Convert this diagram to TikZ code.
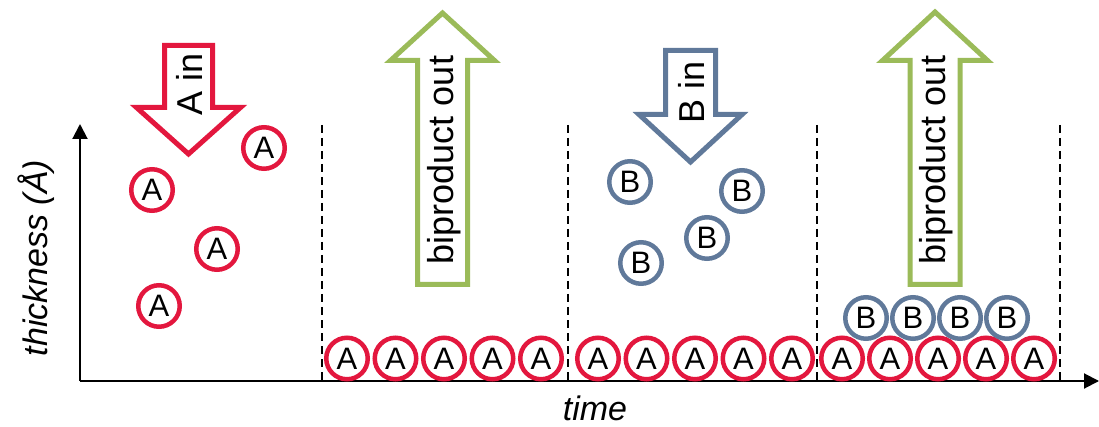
\documentclass[tikz,border=0pt]{standalone}
\usepackage{fontspec}
\setmainfont{Liberation Sans}
\usetikzlibrary{arrows.meta}
\definecolor{molA}{HTML}{E3173E}
\definecolor{molB}{HTML}{60799A}
\definecolor{purge}{HTML}{9BBB59}
\begin{document}
\begin{tikzpicture}[x=1pt,y=-1pt,
  mol/.style={circle, draw, line width=4.5pt, inner sep=0pt, minimum size=41.5pt,
    fill=white, font=\fontsize{31}{31}\selectfont},
  amol/.style={mol, draw=molA},
  bmol/.style={mol, draw=molB},
  flow/.style={line width=5pt, fill=white, miter limit=10},
  flowlabel/.style={rotate=90, inner sep=0pt, font=\fontsize{36}{36}\selectfont},
  axislabel/.style={inner sep=0pt, font=\fontsize{34}{34}\selectfont\itshape},
  stage/.style={line width=1.8pt, dash pattern=on 8pt off 5pt},
  axis/.style={line width=2pt, -{Triangle[length=15pt,width=15pt]}}
]
\useasboundingbox (0,0) rectangle (1099,427);

% axes
\coordinate (O) at (80,381);
\coordinate (ytop) at (80,124);
\coordinate (xend) at (1099,381);
\draw[axis] (O) -- (ytop);
\draw[axis] (O) -- (xend);
\node[axislabel, rotate=90] (ylab) at (36,258) {thickness (Å)};
\node[axislabel] (xlab) at (595,408) {time};

% stage boundaries
\foreach \x in {322,568,817,1060}
  \draw[stage] (\x,125) -- (\x,381);

% step 1: precursor A pulse
\draw[flow, draw=molA] (164.5,45.5) -- (212.5,45.5) -- (212.5,107.5) -- (240.5,107.5)
  -- (188.5,154) -- (136.5,107.5) -- (164.5,107.5) -- cycle;
\node[flowlabel] (ain) at (189,84) {A in};
\node[amol] (a1) at (264,148) {A};
\node[amol] (a2) at (152,190) {A};
\node[amol] (a3) at (217,249) {A};
\node[amol] (a4) at (159,306) {A};

% step 2: purge, A monolayer
\draw[flow, draw=purge] (442.5,13) -- (494.5,60.5) -- (467.5,60.5) -- (467.5,284.5)
  -- (417.5,284.5) -- (417.5,60.5) -- (390.5,60.5) -- cycle;
\node[flowlabel] (out1) at (444,160) {biproduct out};
\foreach \i in {0,...,4}
  \node[amol] (s2a\i) at (347+48.5*\i,358.5) {A};

% step 3: precursor B pulse
\draw[flow, draw=molB] (665.5,50.5) -- (715.5,50.5) -- (715.5,114.5) -- (742,114.5)
  -- (690.5,162) -- (639,114.5) -- (665.5,114.5) -- cycle;
\node[flowlabel] (bin) at (691,92) {B in};
\foreach \i in {0,...,4}
  \node[amol] (s3a\i) at (598+48.5*\i,358.5) {A};
\node[bmol] (b1) at (630,182) {B};
\node[bmol] (b2) at (742,191) {B};
\node[bmol] (b3) at (707,238) {B};
\node[bmol] (b4) at (641,263) {B};

% step 4: purge, A/B bilayer
\draw[flow, draw=purge] (935,12) -- (987.5,60.5) -- (960,60.5) -- (960,284.5)
  -- (910,284.5) -- (910,60.5) -- (882.5,60.5) -- cycle;
\node[flowlabel] (out2) at (936,160) {biproduct out};
\foreach \i in {0,...,4}
  \node[amol] (s4a\i) at (842+48*\i,358.5) {A};
\foreach \i in {0,...,3}
  \node[bmol] (s4b\i) at (866+47*\i,318) {B};
\end{tikzpicture}
\end{document}
